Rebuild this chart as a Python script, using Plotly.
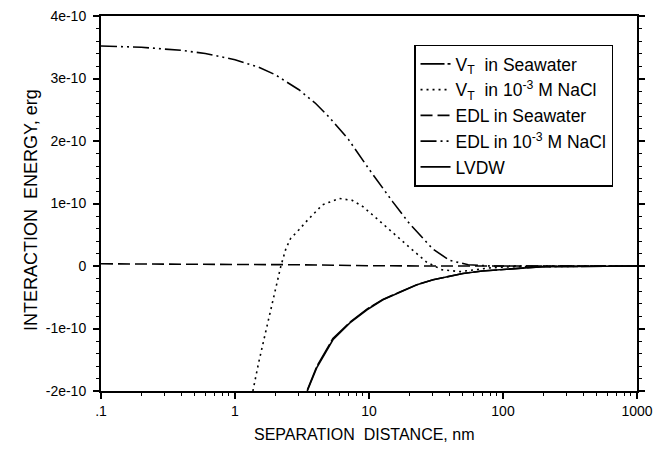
import plotly.graph_objects as go

# Separation distance (nm) and interaction energy (erg)
x_edl_nacl = [0.1, 0.2, 0.4, 0.6, 1, 1.5, 2, 3, 4, 5, 7, 10, 15, 20, 30, 40, 55, 80, 1000]
y_edl_nacl = [3.52e-10, 3.50e-10, 3.45e-10, 3.40e-10, 3.30e-10, 3.18e-10, 3.06e-10, 2.82e-10,
              2.60e-10, 2.39e-10, 2.03e-10, 1.55e-10, 1.03e-10, 0.68e-10, 0.27e-10, 0.09e-10,
              0.02e-10, 0.0, 0.0]

x_vt_nacl = [1.36, 1.5, 1.7, 2.0, 2.2, 2.4, 2.6, 3.0, 3.5, 4.5, 6.0, 7.5, 9.0, 12, 15,
             20, 27, 35, 48, 60, 80, 120, 1000]
y_vt_nacl = [-2.0e-10, -1.55e-10, -1.04e-10, -0.38e-10, 0.0, 0.28e-10, 0.44e-10,
             0.58e-10, 0.74e-10, 0.98e-10, 1.08e-10, 1.05e-10, 0.95e-10, 0.72e-10, 0.53e-10,
             0.30e-10, 0.06e-10, -0.06e-10, -0.09e-10, -0.06e-10, -0.03e-10, -0.01e-10, 0.0]

x_edl_sw = [0.1, 1, 3, 10, 30, 1000]
y_edl_sw = [0.035e-10, 0.03e-10, 0.02e-10, 0.005e-10, 0.0, 0.0]

x_lvdw = [3.46, 4.09, 5.38, 7.2, 9.66, 12.7, 17.0, 22.8, 30.1, 40.2, 50.2, 70, 119, 200, 1000]
y_lvdw = [-2.0e-10, -1.62e-10, -1.18e-10, -0.91e-10, -0.70e-10, -0.54e-10, -0.42e-10,
          -0.30e-10, -0.22e-10, -0.17e-10, -0.12e-10, -0.08e-10, -0.04e-10, -0.01e-10, 0.0]

x_vt_sw = [3.47, 4.09, 5.38, 7.2, 9.66, 12.7, 17.0, 22.8, 30.1, 40.2, 50.2, 70, 119, 200, 1000]
y_vt_sw = [-1.98e-10, -1.60e-10, -1.16e-10, -0.90e-10, -0.69e-10, -0.535e-10, -0.417e-10,
           -0.298e-10, -0.22e-10, -0.17e-10, -0.12e-10, -0.08e-10, -0.04e-10, -0.01e-10, 0.0]

x_tickvals = [0.1, 1, 10, 100, 1000]
x_ticktext = [".1", "1", "10", "100", "1000"]
x_minor_tickvals = [m * d for d in (0.1, 1, 10, 100) for m in range(2, 10)]
y_tickvals = [-2e-10, -1e-10, 0, 1e-10, 2e-10, 3e-10, 4e-10]
y_ticktext = ["-2e-10", "-1e-10", "0", "1e-10", "2e-10", "3e-10", "4e-10"]

FONT = "Arial, 'Liberation Sans', sans-serif"
LW = 1.6

fig = go.Figure()
fig.add_trace(go.Scatter(x=x_vt_sw, y=y_vt_sw, mode="lines",
                         name="V<sub>T</sub>&nbsp; in Seawater",
                         line=dict(color="black", width=LW, dash="24px,3px")))
fig.add_trace(go.Scatter(x=x_vt_nacl, y=y_vt_nacl, mode="lines",
                         name="V<sub>T</sub>&nbsp; in 10<sup>-3</sup> M NaCl",
                         line=dict(color="black", width=LW, dash="2px,4px")))
fig.add_trace(go.Scatter(x=x_edl_sw, y=y_edl_sw, mode="lines",
                         name="EDL in Seawater",
                         line=dict(color="black", width=LW, dash="12px,5px")))
fig.add_trace(go.Scatter(x=x_edl_nacl, y=y_edl_nacl, mode="lines",
                         name="EDL in 10<sup>-3</sup> M NaCl",
                         line=dict(color="black", width=LW, dash="16px,4px,2px,4px,2px,4px")))
fig.add_trace(go.Scatter(x=x_lvdw, y=y_lvdw, mode="lines",
                         name="LVDW",
                         line=dict(color="black", width=LW)))

# The page body adds an 8px offset, so the figure is sized 8px smaller.
fig.update_layout(
    width=661, height=445,
    margin=dict(l=93, r=32, t=8, b=62, autoexpand=False),
    paper_bgcolor="white", plot_bgcolor="white",
    font=dict(family=FONT, color="black", size=13),
    showlegend=True,
    legend=dict(x=0.584, y=0.924, xanchor="left", yanchor="top",
                bordercolor="black", borderwidth=1.5, bgcolor="white",
                font=dict(family=FONT, size=17.5, color="black"),
                itemwidth=30, tracegroupgap=0, entrywidth=165),
    xaxis=dict(type="log", range=[-1, 3], tickvals=x_tickvals, ticktext=x_ticktext,
               automargin=False, ticklabeloverflow="allow",
               showgrid=False, zeroline=False, showline=True, linecolor="black", linewidth=2,
               mirror=True, ticks="outside", ticklen=6, tickwidth=1.5, tickcolor="black",
               tickfont=dict(size=14),
               minor=dict(tickvals=x_minor_tickvals, ticks="outside", ticklen=3, tickwidth=1,
                          tickcolor="black", showgrid=False)),
    yaxis=dict(range=[-2e-10, 4e-10], tickvals=y_tickvals, ticktext=y_ticktext,
               automargin=False, ticklabelstandoff=4, ticklabeloverflow="allow",
               showgrid=False, zeroline=False, showline=True, linecolor="black", linewidth=2,
               mirror="allticks", ticks="outside", ticklen=6, tickwidth=1.5, tickcolor="black",
               tickfont=dict(size=14),
               minor=dict(ticks="outside", ticklen=3, tickwidth=1, tickcolor="black",
                          dtick=2e-11, tick0=0, showgrid=False)),
    annotations=[
        dict(text="SEPARATION&nbsp; DISTANCE, nm", xref="paper", yref="paper",
             x=0.4907, y=-0.1173, xanchor="center", yanchor="middle", showarrow=False,
             font=dict(family=FONT, size=16, color="black")),
        dict(text="INTERACTION&nbsp; ENERGY, erg", xref="paper", yref="paper",
             x=-0.1306, y=0.4827, xanchor="center", yanchor="middle", showarrow=False,
             textangle=-90, font=dict(family=FONT, size=18, color="black")),
    ],
)

fig.write_html("out.html")
